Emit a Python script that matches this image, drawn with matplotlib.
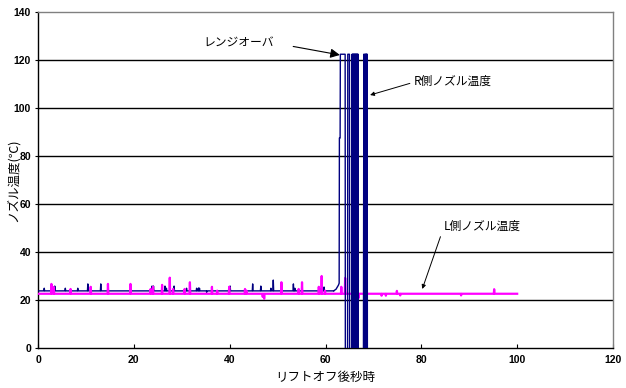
import matplotlib
matplotlib.use("Agg")
import matplotlib.pyplot as plt
import numpy as np

plt.rcParams['font.family'] = ['Noto Sans CJK JP', 'DejaVu Sans']

# ---- data ----
x_ticks = [0, 20, 40, 60, 80, 100, 120]
y_ticks = [0, 20, 40, 60, 80, 100, 120, 140]

# R-side nozzle temperature: baseline with spikes, 0 .. 61.7 s
r_base = 23.8
r_start, r_end_base = 0.0, 61.7
r_spike_t = [1.3, 3.3, 3.5, 5.7, 8.3, 10.4, 13.1, 23.8, 24.1, 26.5, 26.8, 28.4,
             31.0, 33.1, 33.5, 33.7, 35.2, 40.1, 44.8, 46.5, 48.6, 49.1, 53.3,
             53.6, 58.8, 59.7]
r_spike_v = [24.9, 25.3, 25.8, 24.9, 24.9, 26.7, 26.7, 25.8, 25.8, 25.8, 24.9, 25.8,
             24.9, 24.9, 25.0, 24.9, 23.2, 25.8, 26.7, 25.8, 24.9, 28.3, 26.7,
             24.9, 24.9, 25.4]

# R-side after 61.7 s: rise, range-over (~122) and oscillation (low values fall below axis)
r_tail_t = [61.7, 62.2, 62.7, 62.85, 62.9, 63.05, 63.1, 64.1, 64.15, 64.6, 64.65, 65.0, 65.05,
            65.5, 65.55, 65.6, 65.65, 65.7, 65.75, 65.8, 65.85, 65.9, 65.95, 66.0, 66.05,
            66.1, 66.15, 66.2, 66.25, 66.3, 66.35, 66.4, 66.45, 66.5, 66.55, 66.6, 66.65,
            66.7, 66.75, 66.8, 66.85,
            67.9, 67.95, 68.0, 68.05, 68.1, 68.15, 68.2, 68.25, 68.3, 68.35, 68.4, 68.45,
            68.5, 68.55, 68.6, 68.65, 68.7, 68.75]
r_tail_v = [23.8, 24.5, 26.2, 27.0, 87.5, 87.5, 122.4, 122.4, -30, -30, 122.4, 122.4, -30,
            -30, 122.4, -30, 122.4, -30, 122.4, -30, 122.4, -30, 122.4, -30, 122.4,
            -30, 122.4, -30, 122.4, -30, 122.4, -30, 122.4, -30, 122.4, -30, 122.4,
            -30, 122.4, 122.4, -30,
            -30, 45.8, 122.4, -30, 122.4, -30, 117.0, -30, 122.4, -30, 122.4, -30,
            122.4, -30, 122.4, -30, 122.4, -30]

# L-side nozzle temperature: baseline with spikes, 0 .. 100 s
l_base = 22.6
l_start, l_end = 0.0, 100.0
l_spike_t = [2.8, 3.3, 6.8, 11.0, 14.6, 19.3, 23.5, 24.0, 25.9, 27.5, 28.2, 30.6,
             31.7, 36.3, 37.4, 39.9, 43.2, 43.5, 46.9, 47.2, 50.8, 54.4, 55.1, 58.6,
             59.2, 59.9, 63.3, 64.1, 66.9, 71.7, 72.6, 74.9, 75.6, 88.3, 95.2]
l_spike_v = [26.7, 25.4, 24.6, 25.5, 26.7, 26.7, 24.6, 25.5, 26.3, 29.3, 24.6, 24.6,
             27.4, 25.5, 23.9, 25.5, 24.6, 23.9, 21.3, 20.5, 27.4, 24.6, 27.4, 25.5,
             30.0, 23.9, 25.5, 29.2, 20.8, 21.8, 21.8, 23.8, 21.9, 21.9, 24.5]


def with_spikes(t0, t1, base, st, sv, half=0.08):
    ts, vs = [t0], [base]
    for t, v in sorted(zip(st, sv)):
        ts += [t - half, t, t + half]
        vs += [base, v, base]
    ts.append(t1)
    vs.append(base)
    return ts, vs


r_t, r_v = with_spikes(r_start, r_end_base, r_base, r_spike_t, r_spike_v)
l_t, l_v = with_spikes(l_start, l_end, l_base, l_spike_t, l_spike_v)

# ---- figure ----
fig = plt.figure(figsize=(6.26, 3.88), dpi=100)
ax = fig.add_axes([38 / 626, 40 / 388, 575 / 626, 336 / 388])

navy = '#000080'
pink = '#FF00FF'

ax.plot(r_t, r_v, color=navy, lw=1.0, zorder=3)
ax.plot(l_t, l_v, color=pink, lw=1.6, zorder=4)
ax.plot(r_tail_t, r_tail_v, color=navy, lw=1.0, zorder=5)

ax.set_xlim(0, 120)
ax.set_ylim(0, 140)
ax.set_xticks(x_ticks)
ax.set_yticks(y_ticks)
ax.set_xticklabels([str(v) for v in x_ticks])
ax.set_yticklabels([str(v) for v in y_ticks])

for y in y_ticks[1:-1]:
    ax.axhline(y, color='black', lw=1.0, zorder=1)

for s in ['left', 'bottom']:
    ax.spines[s].set_color('black')
    ax.spines[s].set_linewidth(1.0)
for s in ['top', 'right']:
    ax.spines[s].set_color('#808080')
    ax.spines[s].set_linewidth(1.0)

ax.tick_params(axis='x', direction='in', length=3, width=0.8, pad=5, labelsize=7.5)
ax.tick_params(axis='y', direction='out', length=2, width=0.8, pad=3, labelsize=7.5)
for lab in ax.get_xticklabels() + ax.get_yticklabels():
    lab.set_fontfamily(['Liberation Sans', 'DejaVu Sans'])
    lab.set_fontweight('bold')

ax.set_xlabel('リフトオフ後秒時', fontsize=9, labelpad=4)
ax.set_ylabel('ノズル温度(℃)', fontsize=9)
ax.yaxis.set_label_coords(-0.031, 0.5)

ax.annotate('レンジオーバ', xy=(63.0, 122.1), xytext=(41.9, 127.1),
            ha='center', va='center', fontsize=8.5,
            arrowprops=dict(arrowstyle='-|>', mutation_scale=14, lw=0.8,
                            color='black', shrinkA=12, shrinkB=0,
                            relpos=(1.0, 0.5)))
ax.annotate('R側ノズル温度', xy=(69.3, 105.4), xytext=(86.6, 111.3),
            ha='center', va='center', fontsize=8.5,
            arrowprops=dict(arrowstyle='-|>', mutation_scale=6, lw=0.7,
                            color='black', shrinkA=1, shrinkB=0,
                            relpos=(0.0, 0.4)))
ax.annotate('L側ノズル温度', xy=(80.2, 24.6), xytext=(92.7, 50.8),
            ha='center', va='center', fontsize=8.5,
            arrowprops=dict(arrowstyle='-|>', mutation_scale=6, lw=0.7,
                            color='black', shrinkA=1, shrinkB=0,
                            relpos=(0.0, 0.4)))

fig.savefig('out.png', dpi=100)
